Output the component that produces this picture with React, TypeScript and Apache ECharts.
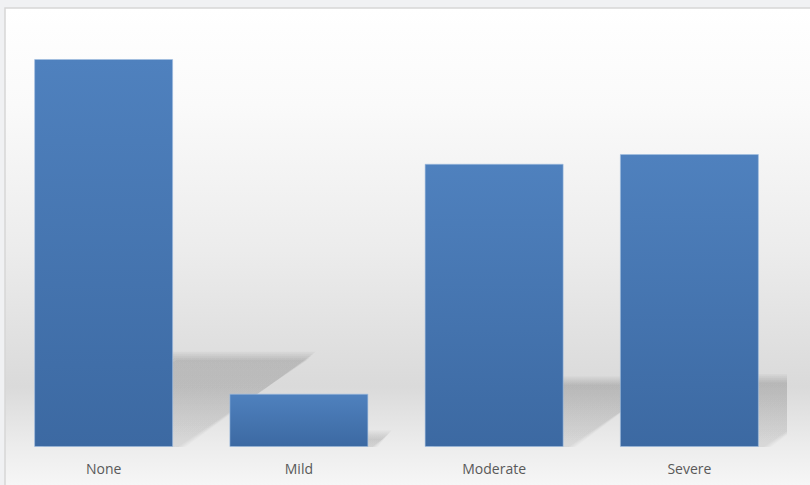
import React, { useEffect, useRef } from "react";
import * as echarts from "echarts";

const categories = ["None", "Mild", "Moderate", "Severe"];
const values = [40, 5.5, 29.2, 30.2];
const axisMax = 40;

export default function App() {
  const ref = useRef<HTMLDivElement>(null);
  useEffect(() => {
    if (!ref.current) return;
    const chart = echarts.init(ref.current, null, { renderer: "svg" });
    chart.setOption({
      animation: false,
      backgroundColor: "#f0f1f3",
      graphic: [
        {
          type: "rect",
          z: -10,
          silent: true,
          shape: { x: 5, y: 8, width: 810, height: 485 },
          style: {
            fill: new echarts.graphic.LinearGradient(0, 0, 0, 1, [
              { offset: 0, color: "#ffffff" },
              { offset: 0.2, color: "#fafafa" },
              { offset: 0.5, color: "#ececec" },
              { offset: 0.78, color: "#dadada" },
              { offset: 0.9, color: "#ececec" },
              { offset: 1, color: "#f8f8f8" },
            ]),
            stroke: "#d6d6d6",
            lineWidth: 1.5,
          },
        },
      ],
      grid: { left: 6, right: 23, top: 59, bottom: 38, containLabel: false },
      xAxis: {
        type: "category",
        data: categories,
        axisLine: { show: false },
        axisTick: { show: false },
        axisLabel: {
          color: "#595959",
          fontFamily: "Open Sans",
          fontSize: 14,
          margin: 14,
        },
      },
      yAxis: {
        type: "value",
        min: 0,
        max: axisMax,
        show: false,
        splitLine: { show: false },
      },
      series: [
        {
          type: "custom",
          clip: true,
          z: 1,
          silent: true,
          data: values.map((v, i) => [i, v]),
          renderItem: (params: any, api: any) => {
            const idx = api.value(0);
            const val = api.value(1);
            const base = api.coord([idx, 0]);
            const top = api.coord([idx, val]);
            const w = 139;
            const h = (base[1] - top[1]) * 0.235;
            const s = h * 1.52;
            const xl = base[0] - w / 2;
            const xr = base[0] + w / 2;
            const ty = base[1] - h;
            const layers = [-4, -2, 0, 2, 4];
            return {
              type: "group",
              children: layers.map((d) => ({
                type: "polygon",
                shape: {
                  points: [
                    [xl, base[1] + 6],
                    [xr + d, base[1] + 6],
                    [xr + s + d, ty - d],
                    [xl + s - d, ty - d],
                  ],
                },
                style: {
                  fill: new echarts.graphic.LinearGradient(0, 0, 0, 1, [
                    { offset: 0, color: "rgba(0,0,0,0.036)" },
                    { offset: 1, color: "rgba(0,0,0,0.016)" },
                  ]),
                },
              })),
            };
          },
        },
        {
          type: "bar",
          z: 2,
          data: values,
          barWidth: 139,
          itemStyle: {
            color: new echarts.graphic.LinearGradient(0, 0, 0, 1, [
              { offset: 0, color: "#4f81be" },
              { offset: 1, color: "#3c69a2" },
            ]),
            borderColor: "rgba(160,190,225,0.6)",
            borderWidth: 1,
          },
        },
      ],
    });
    return () => chart.dispose();
  }, []);
  return (
    <div
      ref={ref}
      style={{ position: "fixed", left: 0, top: 0, width: 810, height: 485 }}
    />
  );
}
